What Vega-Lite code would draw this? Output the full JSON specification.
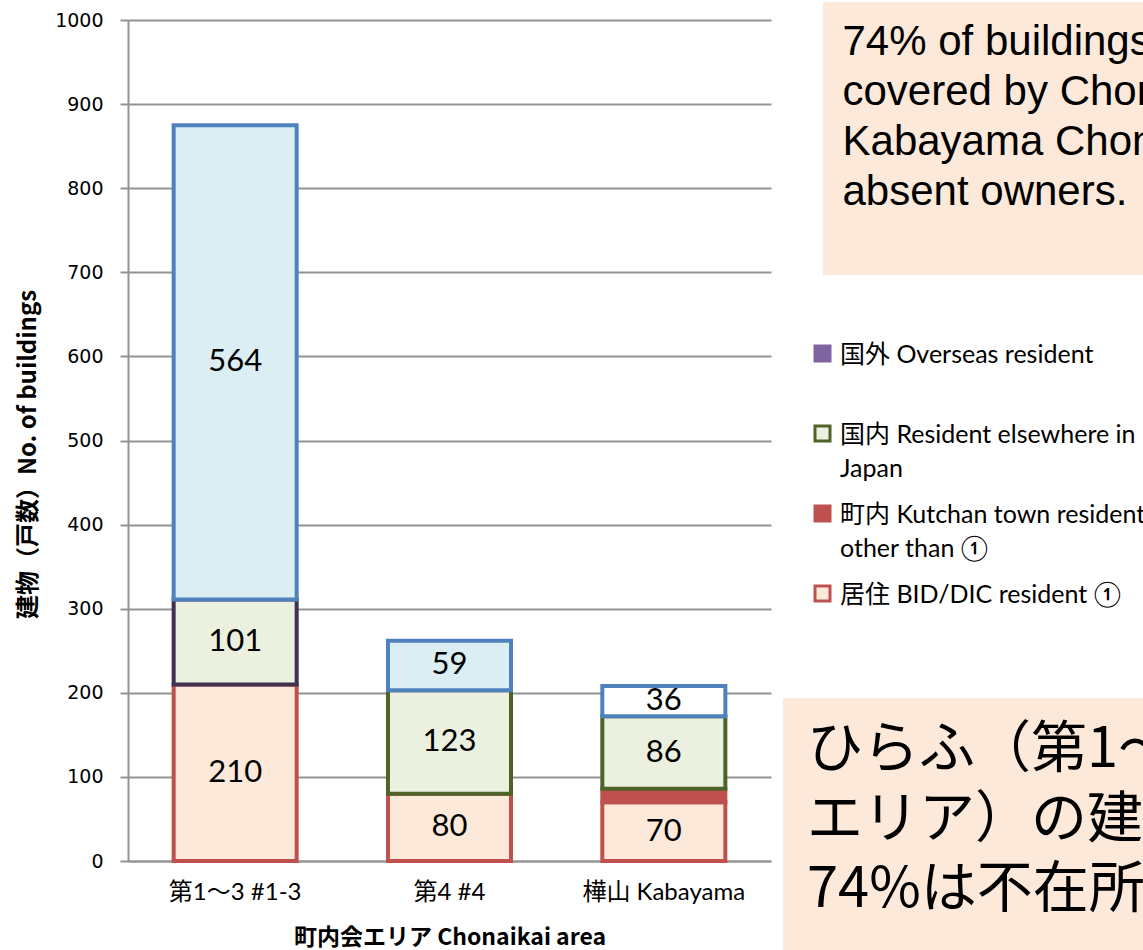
{
  "$schema": "https://vega.github.io/schema/vega-lite/v6.json",
  "padding": {"left": 16, "top": 2, "right": 0, "bottom": 0},
  "spacing": 8,
  "resolve": {"scale": {"fill": "shared", "stroke": "shared"}, "legend": {"fill": "shared", "stroke": "shared"}},
  "hconcat": [
    {
      "width": 643,
      "height": 841,
      "data": {"values": [
        {"area": "第1〜3 #1-3", "type": "居住", "count": 210},
        {"area": "第1〜3 #1-3", "type": "国内", "count": 101},
        {"area": "第1〜3 #1-3", "type": "国外", "count": 564},
        {"area": "第4 #4", "type": "居住", "count": 80},
        {"area": "第4 #4", "type": "国内", "count": 123},
        {"area": "第4 #4", "type": "国外", "count": 59},
        {"area": "樺山 Kabayama", "type": "居住", "count": 70},
        {"area": "樺山 Kabayama", "type": "町内", "count": 16},
        {"area": "樺山 Kabayama", "type": "国内", "count": 86},
        {"area": "樺山 Kabayama", "type": "国外", "count": 36}
      ]},
      "transform": [
        {"calculate": "indexof(['居住','町内','国内','国外'], datum.type)", "as": "ord"},
        {"stack": "count", "groupby": ["area"], "sort": [{"field": "ord", "order": "ascending"}], "as": ["v0", "v1"]},
        {"calculate": "(datum.v0 + datum.v1) / 2", "as": "mid"}
      ],
      "encoding": {
        "x": {
          "field": "area", "type": "nominal",
          "sort": ["第1〜3 #1-3", "第4 #4", "樺山 Kabayama"],
          "scale": {"paddingInner": 0.426, "paddingOuter": 0.213},
          "axis": {
            "title": "町内会エリア Chonaikai area",
            "titleFont": "Noto Sans CJK JP", "titleFontSize": 23, "titleFontWeight": "bold",
            "titlePadding": 22,
            "labelAngle": 0, "labelFont": "Lato, Noto Sans CJK JP", "labelFontSize": 24,
            "labelPadding": 19, "ticks": false, "tickSize": 0, "labelLimit": 300
          }
        }
      },
      "layer": [
        {
          "mark": {"type": "bar", "strokeWidth": 4},
          "encoding": {
            "y": {
              "field": "v0", "type": "quantitative",
              "scale": {"domain": [0, 1000], "nice": false},
              "axis": {
                "title": "建物（戸数）No. of buildings",
                "titleFont": "Noto Sans CJK JP", "titleFontSize": 24, "titleFontWeight": "bold",
                "titlePadding": 14, "titleY": 434, "format": "d",
                "values": [0, 100, 200, 300, 400, 500, 600, 700, 800, 900, 1000],
                "labelFont": "DejaVu Sans", "labelFontSize": 19, "labelPadding": 17,
                "tickSize": 8, "grid": true
              }
            },
            "y2": {"field": "v1"},
            "fill": {
              "field": "type", "type": "nominal",
              "scale": {"domain": ["国外", "国内", "町内", "居住"], "range": ["#8064A2", "#EBF1DE", "#C0504D", "#FDE9D9"]},
              "legend": {
                "title": null, "orient": "none", "legendX": 682, "legendY": 310,
                "symbolType": "M-1,0.45H1V2.45H-1Z", "symbolSize": 225, "symbolStrokeWidth": 3,
                "labelFont": "Lato, Noto Sans CJK JP", "labelFontSize": 25, "labelColor": "black",
                "labelBaseline": "top", "labelOffset": 5, "labelLimit": 500,
                "gridAlign": "all", "rowPadding": 8,
                "labelExpr": "datum.value === '国外' ? '国外 Overseas resident' : datum.value === '国内' ? ['国内 Resident elsewhere in', 'Japan'] : datum.value === '町内' ? ['町内 Kutchan town resident', 'other than ①'] : '居住 BID/DIC resident ①'"
              },
              "condition": [
                {"test": "datum.type === '国外' && datum.area === '樺山 Kabayama'", "value": "#FFFFFF"},
                {"test": "datum.type === '国外'", "value": "#DAEEF3"}
              ]
            },
            "stroke": {
              "field": "type", "type": "nominal",
              "scale": {"domain": ["国外", "国内", "町内", "居住"], "range": ["#8064A2", "#4F6228", "#C0504D", "#C0504D"]},
              "legend": {
                "title": null, "orient": "none", "legendX": 682, "legendY": 310,
                "symbolType": "M-1,0.45H1V2.45H-1Z", "symbolSize": 225, "symbolStrokeWidth": 3,
                "labelFont": "Lato, Noto Sans CJK JP", "labelFontSize": 25, "labelColor": "black",
                "labelBaseline": "top", "labelOffset": 5, "labelLimit": 500,
                "gridAlign": "all", "rowPadding": 8,
                "labelExpr": "datum.value === '国外' ? '国外 Overseas resident' : datum.value === '国内' ? ['国内 Resident elsewhere in', 'Japan'] : datum.value === '町内' ? ['町内 Kutchan town resident', 'other than ①'] : '居住 BID/DIC resident ①'"
              },
              "condition": [
                {"test": "datum.type === '国外'", "value": "#4F81BD"},
                {"test": "datum.type === '国内' && datum.area === '第1〜3 #1-3'", "value": "#3F3151"}
              ]
            }
          }
        },
        {
          "transform": [{"filter": "datum.type !== '町内'"}],
          "mark": {"type": "text", "font": "Lato", "fontSize": 31, "color": "black", "baseline": "middle", "align": "center"},
          "encoding": {
            "y": {
              "field": "mid", "type": "quantitative",
              "axis": {
                "title": "建物（戸数）No. of buildings",
                "titleFont": "Noto Sans CJK JP", "titleFontSize": 24, "titleFontWeight": "bold",
                "titlePadding": 14, "titleY": 434, "format": "d",
                "values": [0, 100, 200, 300, 400, 500, 600, 700, 800, 900, 1000],
                "labelFont": "DejaVu Sans", "labelFontSize": 19, "labelPadding": 17,
                "tickSize": 8, "grid": true
              }
            },
            "text": {"field": "count", "type": "quantitative"}
          }
        }
      ]
    },
    {
      "width": 365,
      "height": 930,
      "data": {"values": [
        {"note": "en", "body": "74% of buildings\ncovered by Chonaikai\nKabayama Chonaikai\nabsent owners."},
        {"note": "ja", "body": "ひらふ（第1〜4\nエリア）の建物の\n74%は不在所有者"}
      ]},
      "layer": [
        {
          "transform": [{"filter": "datum.note === 'en'"}],
          "mark": {"type": "rect", "fill": "#FDE9D9"},
          "encoding": {
            "x": {"datum": 12.05, "type": "quantitative", "scale": {"domain": [0, 100]}, "axis": null},
            "x2": {"datum": 100},
            "y": {"datum": -1.935, "type": "quantitative", "scale": {"domain": [0, 100], "reverse": true}, "axis": null},
            "y2": {"datum": 27.42}
          }
        },
        {
          "transform": [{"filter": "datum.note === 'ja'"}],
          "mark": {"type": "rect", "fill": "#FDE9D9"},
          "encoding": {
            "x": {"datum": 1.1, "type": "quantitative"},
            "x2": {"datum": 100},
            "y": {"datum": 72.9, "type": "quantitative"},
            "y2": {"datum": 100}
          }
        },
        {
          "transform": [{"filter": "datum.note === 'en'"}],
          "mark": {"type": "text", "font": "Liberation Sans", "fontSize": 42, "lineHeight": 50, "lineBreak": "\n", "align": "left", "baseline": "alphabetic", "color": "black", "clip": true},
          "encoding": {
            "x": {"datum": 17.4, "type": "quantitative"},
            "y": {"datum": 3.76, "type": "quantitative"},
            "text": {"field": "body"}
          }
        },
        {
          "transform": [{"filter": "datum.note === 'ja'"}],
          "mark": {"type": "text", "font": "Noto Sans CJK JP", "fontSize": 56, "lineHeight": 70, "lineBreak": "\n", "align": "left", "baseline": "alphabetic", "color": "black", "clip": true},
          "encoding": {
            "x": {"datum": 7.67, "type": "quantitative"},
            "y": {"datum": 80.32, "type": "quantitative"},
            "text": {"field": "body"}
          }
        }
      ]
    }
  ],
  "config": {
    "view": {"stroke": null},
    "axis": {
      "labelColor": "black", "titleColor": "black",
      "domainColor": "#939393", "domainWidth": 2,
      "gridColor": "#939393", "gridWidth": 2,
      "tickColor": "#939393", "tickWidth": 2
    },
    "style": {"guide-label": {"lineHeight": 34}}
  }
}
